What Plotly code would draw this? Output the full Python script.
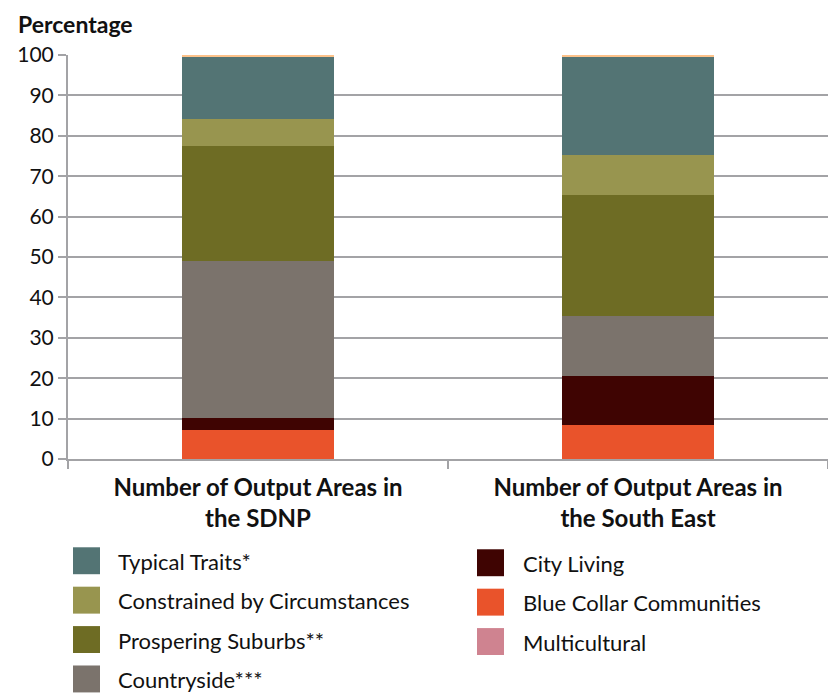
import plotly.graph_objects as go

# Category labels (x axis)
categories = [
    "Number of Output Areas in<br>the SDNP",
    "Number of Output Areas in<br>the South East",
]

# Percentage of output areas per supergroup, bottom of the stack first
blue_collar = [7.3, 8.5]
city_living = [2.9, 12.1]
countryside = [38.8, 14.8]
prospering_suburbs = [28.4, 29.9]
constrained = [6.7, 9.9]
typical_traits = [15.5, 24.2]
multicultural = [0.4, 0.6]

y_ticks = [0, 10, 20, 30, 40, 50, 60, 70, 80, 90, 100]

# Stack order (bottom to top) with bar colours
series = [
    ("Blue Collar Communities", blue_collar, "#e9532b"),
    ("City Living", city_living, "#3f0402"),
    ("Countryside***", countryside, "#7b736c"),
    ("Prospering Suburbs**", prospering_suburbs, "#6e6c24"),
    ("Constrained by Circumstances", constrained, "#98954f"),
    ("Typical Traits*", typical_traits, "#537474"),
    ("Multicultural", multicultural, "#fdc28a"),
]

# Legend layout: two columns, entries listed top to bottom
legend_left = [
    ("Typical Traits*", "#537474"),
    ("Constrained by Circumstances", "#98954f"),
    ("Prospering Suburbs**", "#6e6c24"),
    ("Countryside***", "#7b736c"),
]
legend_right = [
    ("City Living", "#3f0402"),
    ("Blue Collar Communities", "#e9532b"),
    ("Multicultural", "#cf8390"),
]

W, H = 828, 695
M_L, M_R, M_T, M_B = 68, 0, 54.5, 235.5
PW = W - M_L - M_R
PH = H - M_T - M_B

FONT = "Lato, 'Open Sans', sans-serif"
GRID = "#a3a3a6"


def px_x(px):
    return (px - M_L) / PW


def px_y(py):
    return (H - M_B - py) / PH


fig = go.Figure()
for name, vals, color in series:
    fig.add_trace(
        go.Bar(
            x=categories,
            y=vals,
            name=name,
            marker=dict(color=color, line=dict(width=0)),
            showlegend=False,
            width=0.4,
        )
    )

shapes = []
annotations = []
for col, (sx, tx, y0) in zip(
    [legend_left, legend_right], [(73, 116, 548), (477, 521, 550)]
):
    for i, (label, color) in enumerate(col):
        top = y0 + i * 39.5
        shapes.append(
            dict(
                type="rect",
                xref="paper",
                yref="paper",
                x0=px_x(sx),
                x1=px_x(sx + 27),
                y0=px_y(top + 27),
                y1=px_y(top),
                fillcolor=color,
                line=dict(width=0),
            )
        )
        annotations.append(
            dict(
                text=label,
                xref="paper",
                yref="paper",
                x=px_x(tx),
                y=px_y(top + 14),
                xanchor="left",
                yanchor="middle",
                showarrow=False,
                font=dict(family=FONT, size=22, color="#111111"),
            )
        )

annotations.append(
    dict(
        text="<b>Percentage</b>",
        xref="paper",
        yref="paper",
        x=px_x(16),
        y=px_y(23),
        xanchor="left",
        yanchor="middle",
        showarrow=False,
        font=dict(family=FONT, size=23, color="#111111"),
    )
)

fig.update_layout(
    width=W,
    height=H,
    margin=dict(l=M_L, r=M_R, t=M_T, b=M_B, pad=0),
    barmode="stack",
    bargap=0.6,
    plot_bgcolor="white",
    paper_bgcolor="white",
    font=dict(family=FONT, color="#111111"),
    shapes=shapes,
    annotations=annotations,
    xaxis=dict(
        range=[-0.5, 1.5],
        showline=True,
        linecolor=GRID,
        linewidth=2,
        ticks="outside",
        tickson="boundaries",
        ticklen=8,
        tickwidth=2,
        tickcolor=GRID,
        showgrid=False,
        ticklabelstandoff=6,
        tickfont=dict(family=FONT, size=24, color="#111111", weight="bold"),
    ),
    yaxis=dict(
        range=[0, 100],
        tickvals=y_ticks,
        showline=True,
        linecolor=GRID,
        linewidth=2,
        ticks="outside",
        ticklen=8,
        tickwidth=2,
        tickcolor=GRID,
        showgrid=True,
        gridcolor=GRID,
        gridwidth=2,
        zeroline=False,
        tickfont=dict(family=FONT, size=21, color="#111111"),
    ),
)

fig.write_html("out.html")
